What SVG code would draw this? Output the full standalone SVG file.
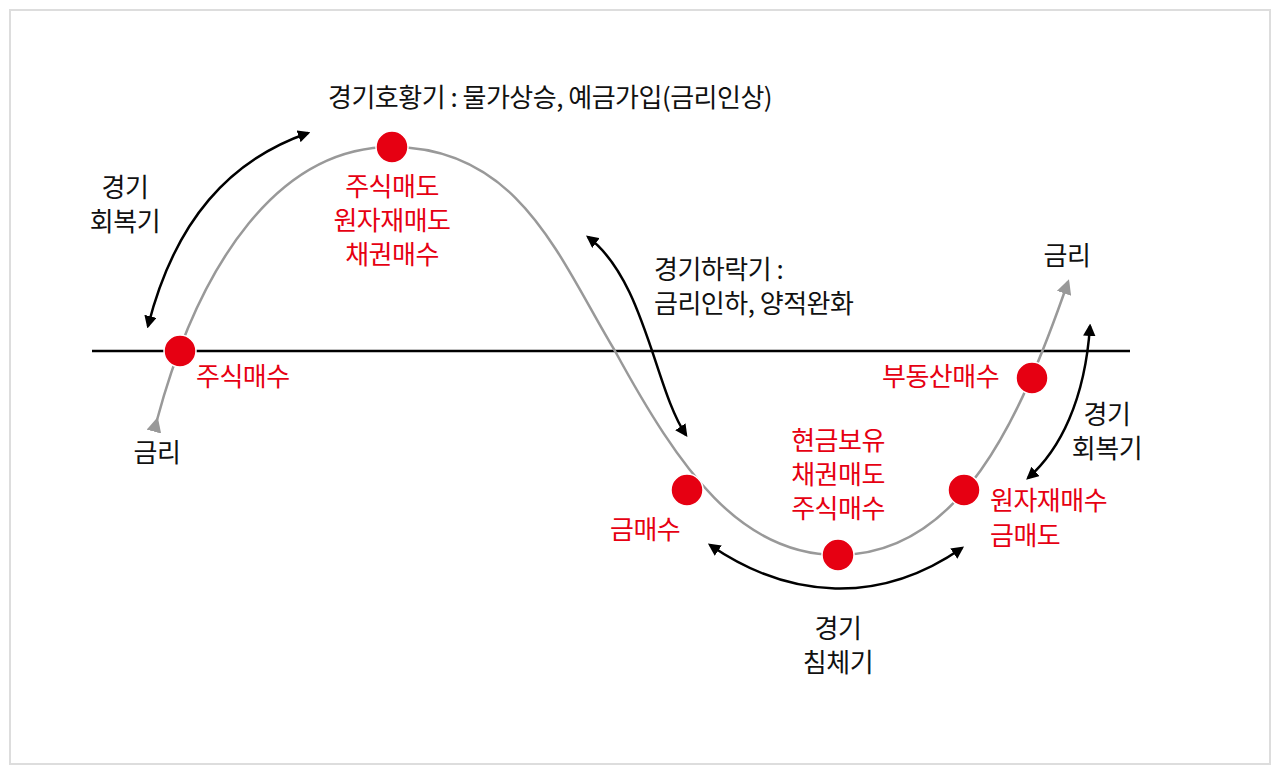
<svg xmlns="http://www.w3.org/2000/svg" width="1280" height="774" viewBox="0 0 1280 774">
<defs>
<style>
text{font-family:"Noto Sans CJK KR","Noto Sans",sans-serif;font-size:26px;fill:#111;letter-spacing:-0.5px}
.r{fill:#e60012}
.m{text-anchor:middle}
.dot{fill:#e60012;stroke:#fff;stroke-width:1.5}
.blk{fill:none;stroke:#000;stroke-width:2.5;marker-start:url(#ah);marker-end:url(#ah)}
</style>
<marker id="ah" viewBox="0 0 10 10" refX="8" refY="5" markerWidth="5" markerHeight="5" orient="auto-start-reverse" markerUnits="strokeWidth"><path d="M0,0 L10,5 L0,10 z" fill="#000"/></marker>
<marker id="ag" viewBox="0 0 10 10" refX="8" refY="5" markerWidth="6" markerHeight="6" orient="auto" markerUnits="strokeWidth"><path d="M0,0 L10,5 L0,10 z" fill="#999"/></marker>
</defs>
<rect x="0" y="0" width="1280" height="774" fill="#fff"/>
<rect x="10" y="10" width="1260" height="754" fill="#fff" stroke="#ddd" stroke-width="2"/>
<g id="connectors">
<line x1="92" y1="351" x2="1130" y2="351" stroke="#000" stroke-width="2.5"/>
<path d="M157,420 C200,260 280,147 392,147 C520,147 560,260 615,351 C680,470 740,555 838,555 C960,555 1020,420 1068,282" fill="none" stroke="#999" stroke-width="2.5" marker-start="url(#ag)" marker-end="url(#ag)"/>
<path class="blk" d="M148,326 C175,220 230,160 308,133"/>
<path class="blk" d="M588,237 C645,280 655,390 686,435"/>
<path class="blk" d="M710,545 C790,600 880,605 962,548"/>
<path class="blk" d="M1090,326 C1085,400 1060,450 1028,478"/>
</g>
<g id="n1"><circle class="dot" cx="180" cy="351" r="16"/><text class="r" x="196" y="386">주식매수</text></g>
<g id="n2"><circle class="dot" cx="392" cy="147" r="16"/><text class="r m" x="392" y="196">주식매도</text><text class="r m" x="392" y="230">원자재매도</text><text class="r m" x="392" y="264">채권매수</text></g>
<g id="n3"><circle class="dot" cx="687" cy="490" r="16"/><text class="r" x="610" y="539">금매수</text></g>
<g id="n4"><circle class="dot" cx="838" cy="555" r="16"/><text class="r m" x="838" y="450">현금보유</text><text class="r m" x="838" y="484">채권매도</text><text class="r m" x="838" y="518">주식매수</text></g>
<g id="n5"><circle class="dot" cx="964" cy="490" r="16"/><text class="r" x="990" y="510">원자재매수</text><text class="r" x="990" y="545">금매도</text></g>
<g id="n6"><circle class="dot" cx="1032" cy="378" r="16"/><text class="r" x="882" y="386">부동산매수</text></g>
<g id="labels">
<text x="328" y="107">경기호황기 : 물가상승, 예금가입(금리인상)</text>
<text class="m" x="125" y="197">경기</text><text class="m" x="125" y="231">회복기</text>
<text x="654" y="279">경기하락기 :</text><text x="654" y="313">금리인하, 양적완화</text>
<text class="m" x="1067" y="265">금리</text>
<text class="m" x="157" y="462">금리</text>
<text class="m" x="1107" y="424">경기</text><text class="m" x="1107" y="458">회복기</text>
<text class="m" x="838" y="638">경기</text><text class="m" x="838" y="672">침체기</text>
</g>
</svg>
